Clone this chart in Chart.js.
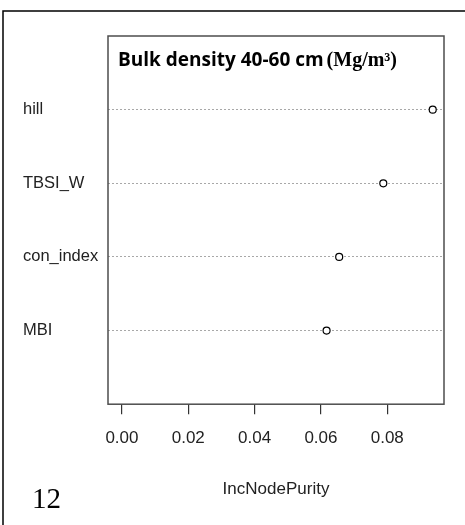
<!DOCTYPE html>
<html>
<head>
<meta charset="utf-8">
<script src="https://cdn.jsdelivr.net/npm/chart.js@4/dist/chart.umd.min.js"></script>
<style>
  body { margin: 0; background: #fff; }
  #wrap { position: relative; width: 465px; height: 525px; }
</style>
</head>
<body>
<div id="wrap"><canvas id="importance"></canvas></div>
<script>
// variable importance, bottom to top as in the R dotchart
const variables = ["MBI", "con_index", "TBSI_W", "hill"];
const incNodePurity = [0.0617, 0.0655, 0.0788, 0.0937];
const xTicks = [0.00, 0.02, 0.04, 0.06, 0.08];

const points = variables.map((v, i) => ({ x: incNodePurity[i], y: i + 1 }));

// frame, plot box, title and panel number
const decorations = {
  id: "decorations",
  afterDraw(chart) {
    const { ctx, chartArea: a } = chart;
    ctx.save();
    ctx.strokeStyle = "#000";
    ctx.lineWidth = 1.5;
    ctx.strokeRect(3, 11, 480, 530);

    ctx.strokeStyle = "#4d4d4d";
    ctx.lineWidth = 1.5;
    ctx.strokeRect(a.left, a.top, a.right - a.left, a.bottom - a.top);

    ctx.fillStyle = "#000";
    ctx.textBaseline = "alphabetic";
    ctx.font = "bold 19px 'Open Sans'";
    const part1 = "Bulk density 40-60 cm ";
    ctx.fillText(part1, 118, 66);
    const w = ctx.measureText(part1).width;
    ctx.font = "bold 20px 'Liberation Serif'";
    ctx.fillText("(Mg/m³)", 118 + w - 2, 66);

    ctx.font = "29px 'Liberation Serif'";
    ctx.fillText("12", 32, 508);
    ctx.restore();
  }
};

new Chart(document.getElementById("importance"), {
  type: "scatter",
  data: {
    datasets: [{
      data: points,
      pointStyle: "circle",
      pointRadius: 3.5,
      pointBorderWidth: 1.2,
      pointBorderColor: "#000",
      pointBackgroundColor: "#fff"
    }]
  },
  options: {
    responsive: true,
    maintainAspectRatio: false,
    animation: false,
    layout: { padding: { top: 36, right: 21, left: 23, bottom: 25 } },
    plugins: {
      legend: { display: false },
      tooltip: { enabled: false }
    },
    scales: {
      x: {
        type: "linear",
        min: -0.0042,
        max: 0.0971,
        afterBuildTicks: axis => { axis.ticks = xTicks.map(v => ({ value: v })); },
        border: { display: false },
        grid: {
          drawOnChartArea: false,
          drawTicks: true,
          tickLength: 10,
          color: "#333",
          lineWidth: 1.2
        },
        ticks: {
          color: "#222",
          padding: 14,
          font: { family: "'Liberation Sans'", size: 17 },
          callback: v => v.toFixed(2)
        },
        title: {
          display: true,
          text: "IncNodePurity",
          color: "#222",
          font: { family: "'Liberation Sans'", size: 17 },
          padding: { top: 17, bottom: 0 }
        }
      },
      y: {
        type: "linear",
        min: 0,
        max: 5,
        afterBuildTicks: axis => { axis.ticks = variables.map((v, i) => ({ value: i + 1 })); },
        afterFit: axis => { axis.width = 85; },
        border: { display: false, dash: [2, 2] },
        grid: {
          drawTicks: false,
          color: "#a8a8a8",
          lineWidth: 1
        },
        ticks: {
          crossAlign: "far",
          padding: 0,
          color: "#222",
          font: { family: "'Liberation Sans'", size: 16.5 },
          callback: v => variables[v - 1]
        }
      }
    }
  },
  plugins: [decorations]
});
</script>
</body>
</html>
